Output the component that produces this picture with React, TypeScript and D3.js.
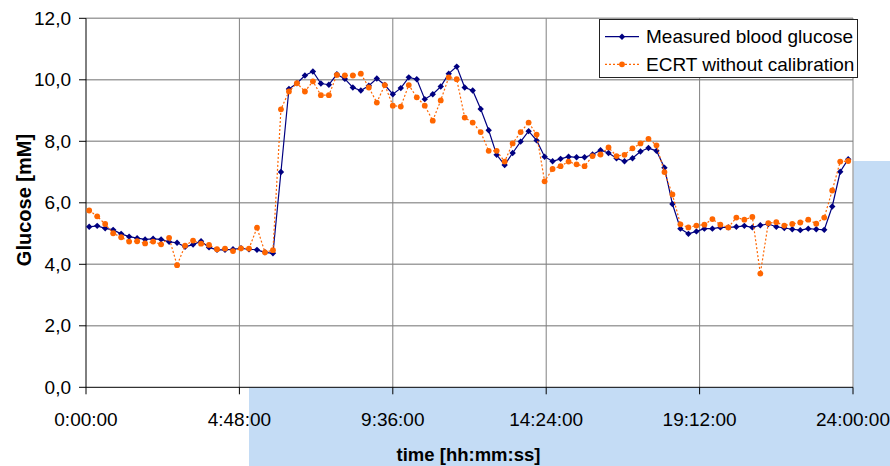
import React from "react";
import * as d3 from "d3";

// sample times in minutes after midnight (15-minute sampling)
const timesMin: number[] = [
  6, 21, 36, 51, 66, 81, 96, 111, 126, 141, 156, 171, 186, 201, 216, 231,
  246, 261, 276, 291, 306, 321, 336, 351, 366, 381, 396, 411, 426, 441, 456, 471,
  486, 501, 516, 531, 546, 561, 576, 591, 606, 621, 636, 651, 666, 681, 696, 711,
  726, 741, 756, 771, 786, 801, 816, 831, 846, 861, 876, 891, 906, 921, 936, 951,
  966, 981, 996, 1011, 1026, 1041, 1056, 1071, 1086, 1101, 1116, 1131, 1146, 1161, 1176, 1191,
  1206, 1221, 1236, 1251, 1266, 1281, 1296, 1311, 1326, 1341, 1356, 1371, 1386, 1401, 1416, 1431,
];

const measured: number[] = [
  5.22, 5.25, 5.17, 5.12, 4.99, 4.9, 4.85, 4.81, 4.83, 4.81, 4.73, 4.7, 4.57, 4.64, 4.75, 4.55,
  4.47, 4.47, 4.49, 4.52, 4.49, 4.47, 4.39, 4.36, 7.0, 9.7, 9.89, 10.14, 10.27, 9.88, 9.84, 10.18,
  10.03, 9.75, 9.65, 9.81, 10.04, 9.83, 9.53, 9.73, 10.08, 10.02, 9.37, 9.53, 9.78, 10.2, 10.43, 9.75,
  9.65, 9.05, 8.36, 7.56, 7.23, 7.62, 7.99, 8.33, 8.03, 7.5, 7.35, 7.43, 7.5, 7.48, 7.48, 7.57,
  7.71, 7.62, 7.45, 7.35, 7.45, 7.67, 7.78, 7.69, 7.14, 5.96, 5.16, 4.99, 5.07, 5.16, 5.16, 5.2,
  5.2, 5.22, 5.25, 5.2, 5.27, 5.31, 5.22, 5.18, 5.14, 5.11, 5.16, 5.14, 5.12, 5.88, 7.01, 7.42,
];

const ecrt: number[] = [
  5.75, 5.56, 5.31, 5.01, 4.88, 4.74, 4.75, 4.68, 4.74, 4.65, 4.86, 3.97, 4.61, 4.77, 4.67, 4.63,
  4.49, 4.51, 4.43, 4.52, 4.51, 5.19, 4.39, 4.46, 9.04, 9.62, 9.89, 9.62, 9.95, 9.5, 9.5, 10.16,
  10.14, 10.14, 10.2, 9.75, 9.26, 9.83, 9.16, 9.13, 9.83, 9.43, 9.16, 8.67, 9.33, 10.08, 10.02, 8.77,
  8.61, 8.3, 7.69, 7.69, 7.34, 7.93, 8.3, 8.61, 8.22, 6.7, 7.1, 7.19, 7.34, 7.25, 7.19, 7.52,
  7.57, 7.8, 7.52, 7.56, 7.77, 7.93, 8.08, 7.87, 7.0, 6.27, 5.3, 5.2, 5.26, 5.29, 5.47, 5.29,
  5.2, 5.52, 5.45, 5.54, 3.7, 5.34, 5.37, 5.26, 5.31, 5.36, 5.45, 5.32, 5.52, 6.4, 7.34, 7.36,
];

const xTicksMin: number[] = [0, 288, 576, 864, 1152, 1440];
const xTickLabels: string[] = ["0:00:00", "4:48:00", "9:36:00", "14:24:00", "19:12:00", "24:00:00"];
const yTicks: number[] = [0, 2, 4, 6, 8, 10, 12];
const yTickLabels: string[] = ["0,0", "2,0", "4,0", "6,0", "8,0", "10,0", "12,0"];
const seriesNames: string[] = ["Measured blood glucose", "ECRT without calibration"];

const W = 890;
const H = 466;
const L = 86;
const R = 853;
const T = 18.3;
const B = 387.3;
const FONT = "'Liberation Sans', Arial, sans-serif";
const BLUE = "#000080";
const ORANGE = "#FF6600";
const HILITE = "#C4DCF5";

export default function App() {
  const x = d3.scaleLinear().domain([0, 1440]).range([L, R]);
  const y = d3.scaleLinear().domain([0, 12]).range([B, T]);

  const blueData = timesMin.map((t, i) => [t, measured[i]] as [number, number]);
  const orangeData = timesMin.map((t, i) => [t, ecrt[i]] as [number, number]);
  const line = d3
    .line<[number, number]>()
    .x((d) => x(d[0]))
    .y((d) => y(d[1]));

  const diamond = (cx: number, cy: number, r: number) =>
    `M${cx},${cy - r}L${cx + r},${cy}L${cx},${cy + r}L${cx - r},${cy}Z`;

  return (
    <svg
      width={W}
      height={H}
      style={{ position: "absolute", left: 0, top: 0, background: "#fff" }}
      fontFamily={FONT}
    >
      <rect x={0} y={0} width={W} height={H} fill="#fff" />
      {/* highlight selection area */}
      <rect x={249} y={B} width={W - 249} height={H - B} fill={HILITE} />
      <rect x={R + 0.5} y={161} width={W - R - 0.5} height={H - 161} fill={HILITE} />

      {/* horizontal gridlines */}
      {yTicks.slice(1).map((v) => (
        <line key={"hg" + v} x1={L} x2={R} y1={y(v)} y2={y(v)} stroke="#a0a0a0" strokeWidth={1.6} />
      ))}
      {/* vertical gridlines */}
      {xTicksMin.slice(1).map((v) => (
        <line key={"vg" + v} x1={x(v)} x2={x(v)} y1={T} y2={B} stroke="#808080" strokeWidth={1} />
      ))}

      {/* axes */}
      <line x1={L} x2={L} y1={T} y2={B} stroke="#000" strokeWidth={1} />
      <line x1={L} x2={R} y1={B} y2={B} stroke="#000" strokeWidth={1} />
      {yTicks.map((v, i) => (
        <g key={"yt" + v}>
          <line x1={L - 7} x2={L} y1={y(v)} y2={y(v)} stroke="#000" strokeWidth={1} />
          <text x={71} y={y(v)} dy="0.35em" textAnchor="end" fontSize={19} fill="#000">
            {yTickLabels[i]}
          </text>
        </g>
      ))}
      {xTicksMin.map((v, i) => (
        <g key={"xt" + v}>
          <line x1={x(v)} x2={x(v)} y1={B} y2={B + 7} stroke="#000" strokeWidth={1} />
          <text x={x(v)} y={426} textAnchor="middle" fontSize={19} fill="#000">
            {xTickLabels[i]}
          </text>
        </g>
      ))}

      {/* axis titles */}
      <text x={468.5} y={460.5} textAnchor="middle" fontSize={18.5} fontWeight="bold" fill="#000">
        time [hh:mm:ss]
      </text>
      <text
        transform={`translate(31,200) rotate(-90)`}
        textAnchor="middle"
        fontSize={20}
        fontWeight="bold"
        fill="#000"
      >
        Glucose [mM]
      </text>

      {/* measured series */}
      <path d={line(blueData) || ""} fill="none" stroke={BLUE} strokeWidth={1.2} />
      {blueData.map((d, i) => (
        <path key={"b" + i} d={diamond(x(d[0]), y(d[1]), 3.2)} fill={BLUE} />
      ))}

      {/* ECRT series */}
      <path
        d={line(orangeData) || ""}
        fill="none"
        stroke={ORANGE}
        strokeWidth={1.2}
        strokeDasharray="2,2"
      />
      {orangeData.map((d, i) => (
        <circle key={"o" + i} cx={x(d[0])} cy={y(d[1])} r={2.9} fill={ORANGE} />
      ))}

      {/* legend */}
      <rect x={599.5} y={19.5} width={258} height={58} fill="#fff" stroke="#222" strokeWidth={1} />
      <line x1={605} x2={639} y1={36.7} y2={36.7} stroke={BLUE} strokeWidth={1.2} />
      <path d={diamond(622, 36.7, 3.2)} fill={BLUE} />
      <text x={646} y={43.2} fontSize={19} fill="#000">
        {seriesNames[0]}
      </text>
      <line x1={605} x2={639} y1={64.3} y2={64.3} stroke={ORANGE} strokeWidth={1.2} strokeDasharray="2,2" />
      <circle cx={622} cy={64.3} r={2.9} fill={ORANGE} />
      <text x={646} y={71} fontSize={19} fill="#000">
        {seriesNames[1]}
      </text>
    </svg>
  );
}
